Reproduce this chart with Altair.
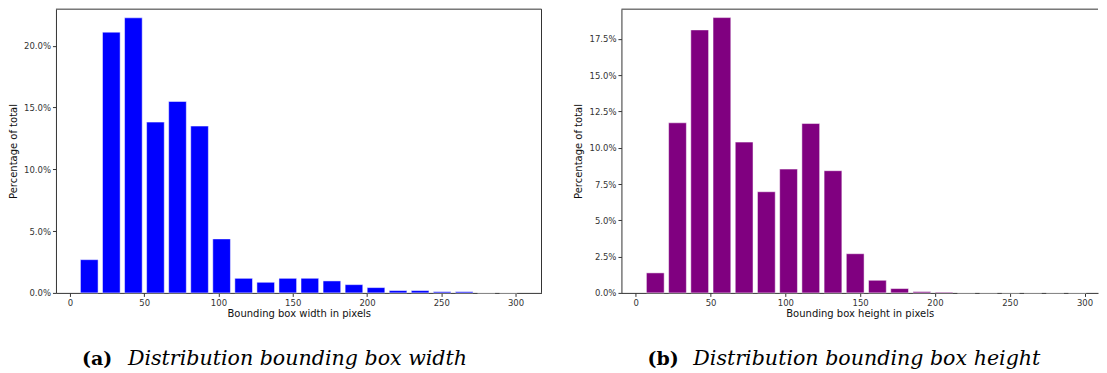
import altair as alt
import pandas as pd

# ---- data ----
bin_left = [5.6, 20.45, 35.3, 50.15, 65.0, 79.85, 94.7, 109.55, 124.4, 139.25,
            154.1, 168.95, 183.8, 198.65, 213.5, 228.35, 243.2, 258.05, 272.9, 287.75]
bin_width = 14.85
width_pct = [2.69, 21.1, 22.26, 13.82, 15.49, 13.5, 4.37, 1.18, 0.86, 1.18,
             1.18, 0.97, 0.67, 0.43, 0.19, 0.19, 0.1, 0.1, 0.0, 0.0]
height_pct = [1.38, 11.72, 18.12, 18.97, 10.39, 6.97, 8.53, 11.67, 8.42, 2.7,
              0.87, 0.3, 0.09, 0.05, 0.0, 0.0, 0.0, 0.0, 0.0, 0.0]
x_ticks = [0, 50, 100, 150, 200, 250, 300]
y_ticks_left = [0, 5, 10, 15, 20]
y_ticks_right = [0, 2.5, 5, 7.5, 10, 12.5, 15, 17.5]
x_titles = ["Bounding box width in pixels", "Bounding box height in pixels"]
y_title = "Percentage of total"
cap_tags = ["(a)", "(b)"]
cap_texts = ["Distribution bounding box width", "Distribution bounding box height"]

H = 284
FRAME = "#333333"


def make_df(vals):
    df = pd.DataFrame({"left": bin_left, "pct": vals})
    df["x0"] = df["left"] + 0.1 * bin_width
    df["x1"] = df["left"] + 0.9 * bin_width
    df["base"] = 0.0
    return df


def panel(vals, color, ymax, yticks, xtitle, tag, text, W, xmin, xmax, right_border):
    df = make_df(vals)
    bars = alt.Chart(df).mark_rect(color=color, stroke="white", strokeWidth=0.5).encode(
        x=alt.X("x0:Q",
                scale=alt.Scale(domain=[xmin, xmax], nice=False, zero=False),
                axis=alt.Axis(values=x_ticks, format="d", title=xtitle,
                              tickSize=3.5, labelPadding=2, titlePadding=2)),
        x2="x1:Q",
        y=alt.Y("pct:Q",
                scale=alt.Scale(domain=[0, ymax], nice=False),
                axis=alt.Axis(values=yticks, title=y_title,
                              labelExpr="format(datum.value, '.1f') + '%'",
                              tickSize=3.5, labelPadding=2, titlePadding=5)),
        y2="base:Q",
    )
    one = pd.DataFrame({"k": [0]})
    top = alt.Chart(one).mark_rule(color=FRAME, strokeWidth=1).encode(
        x=alt.value(0), x2=alt.value(W), y=alt.value(0))
    layers = [bars, top]
    if right_border:
        layers.append(alt.Chart(one).mark_rule(color=FRAME, strokeWidth=1).encode(
            x=alt.value(W), y=alt.value(0), y2=alt.value(H)))
    tag_df = pd.DataFrame({"t": [tag]})
    txt_df = pd.DataFrame({"t": [text]})
    layers.append(alt.Chart(tag_df).mark_text(
        align="left", baseline="alphabetic", font="DejaVu Serif",
        fontWeight="bold", fontSize=19, color="black").encode(
        x=alt.value(26), y=alt.value(356.5), text="t:N"))
    layers.append(alt.Chart(txt_df).mark_text(
        align="left", baseline="alphabetic", font="DejaVu Serif",
        fontStyle="italic", fontSize=20.6, color="black").encode(
        x=alt.value(72), y=alt.value(356.5), text="t:N"))
    return alt.layer(*layers).properties(width=W, height=H)


left = panel(width_pct, "#0000ff", 22.96, y_ticks_left, x_titles[0],
             cap_tags[0], cap_texts[0], 486, -9.4, 317.5, True)
right = panel(height_pct, "#800080", 19.55, y_ticks_right, x_titles[1],
              cap_tags[1], cap_texts[1], 477, -9.6, 309.0, False)

chart = alt.hconcat(left, right, spacing=31).properties(
    padding=0, background="white"
).configure_view(stroke=None).configure_axis(
    labelFont="DejaVu Sans", titleFont="DejaVu Sans",
    labelFontSize=8.5, titleFontSize=10, titleFontWeight="normal",
    labelColor="#333333", titleColor="#111111",
    tickColor=FRAME, domainColor=FRAME, grid=False,
)

chart.save("out.html", embed_options={"renderer": "svg", "actions": False})
